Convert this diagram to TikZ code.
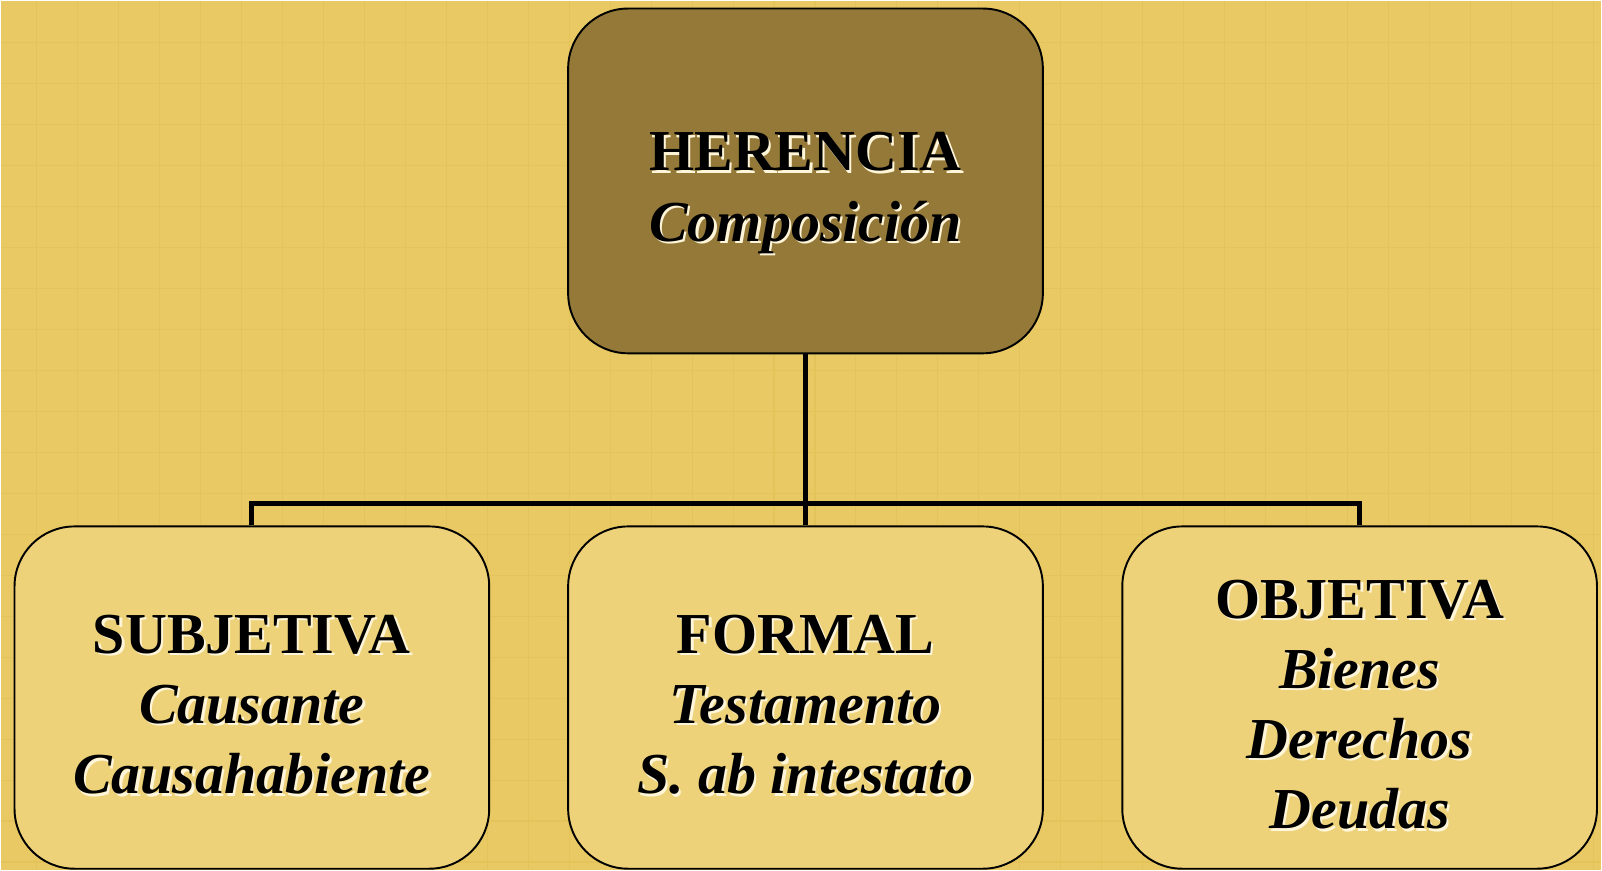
\documentclass[tikz,border=0pt]{standalone}
\usepackage{fontspec}
\setmainfont{Liberation Serif}
\usepackage{xcolor}
\usepackage{tikz}
\usetikzlibrary{positioning,calc}
\definecolor{paper}{HTML}{E9C963}
\definecolor{gridline}{HTML}{E4C35B}
\definecolor{topfill}{HTML}{957939}
\definecolor{boxfill}{HTML}{EED27A}
\definecolor{glowcol}{HTML}{FFF6DA}
\newcommand{\glow}[1]{\leavevmode\rlap{\kern1.3pt\raisebox{-1.3pt}{\color{glowcol}#1}}#1}
\newcommand{\lift}[1]{\rule{0pt}{#1}}

\begin{document}
\begin{tikzpicture}[
    box/.style={draw, line width=1.1pt, rounded corners=1.2cm,
                minimum width=9.5cm, minimum height=6.85cm,
                align=center, fill=boxfill,
                font=\fontsize{33}{40}\selectfont\bfseries},
    conn/.style={line width=2.8pt},
  ]

  % ── Background ──
  \fill[paper] (0,0) rectangle (32.04,-17.4);
  \foreach \x in {0.72,1.54,...,32.0}
    \draw[gridline, line width=0.6pt] (\x,0) -- (\x,-17.4);
  \foreach \y in {-0.84,-1.66,...,-17.4}
    \draw[gridline, line width=0.6pt] (0,\y) -- (32.04,\y);
  \useasboundingbox (0,0) rectangle (32.04,-17.4);

  % ── Top: Herencia ──
  \node[box, fill=topfill, minimum height=6.9cm] at (16.11,-3.61) (herencia)
    {\lift{1.3cm}\glow{HERENCIA}\\ \glow{\itshape Composición}};

  % ── Bottom row ──
  \node[box] at (5.03,-13.95) (subjetiva)
    {\lift{1.1cm}\glow{SUBJETIVA}\\ \glow{\itshape Causante}\\ \glow{\itshape Causahabiente}};
  \node[box] at (16.11,-13.95) (formal)
    {\lift{1.1cm}\glow{FORMAL}\\ \glow{\itshape Testamento}\\ \glow{\itshape S. ab intestato}};
  \node[box] at (27.2,-13.95) (objetiva)
    {\lift{1.1cm}\glow{OBJETIVA}\\ \glow{\itshape Bienes}\\ \glow{\itshape Derechos}\\ \glow{\itshape Deudas}};

  % ── Connectors ──
  \draw[conn] (herencia.south) -- (formal.north);
  \draw[conn] (subjetiva.north) -- ++(0,0.44) -| (objetiva.north);

\end{tikzpicture}
\end{document}
